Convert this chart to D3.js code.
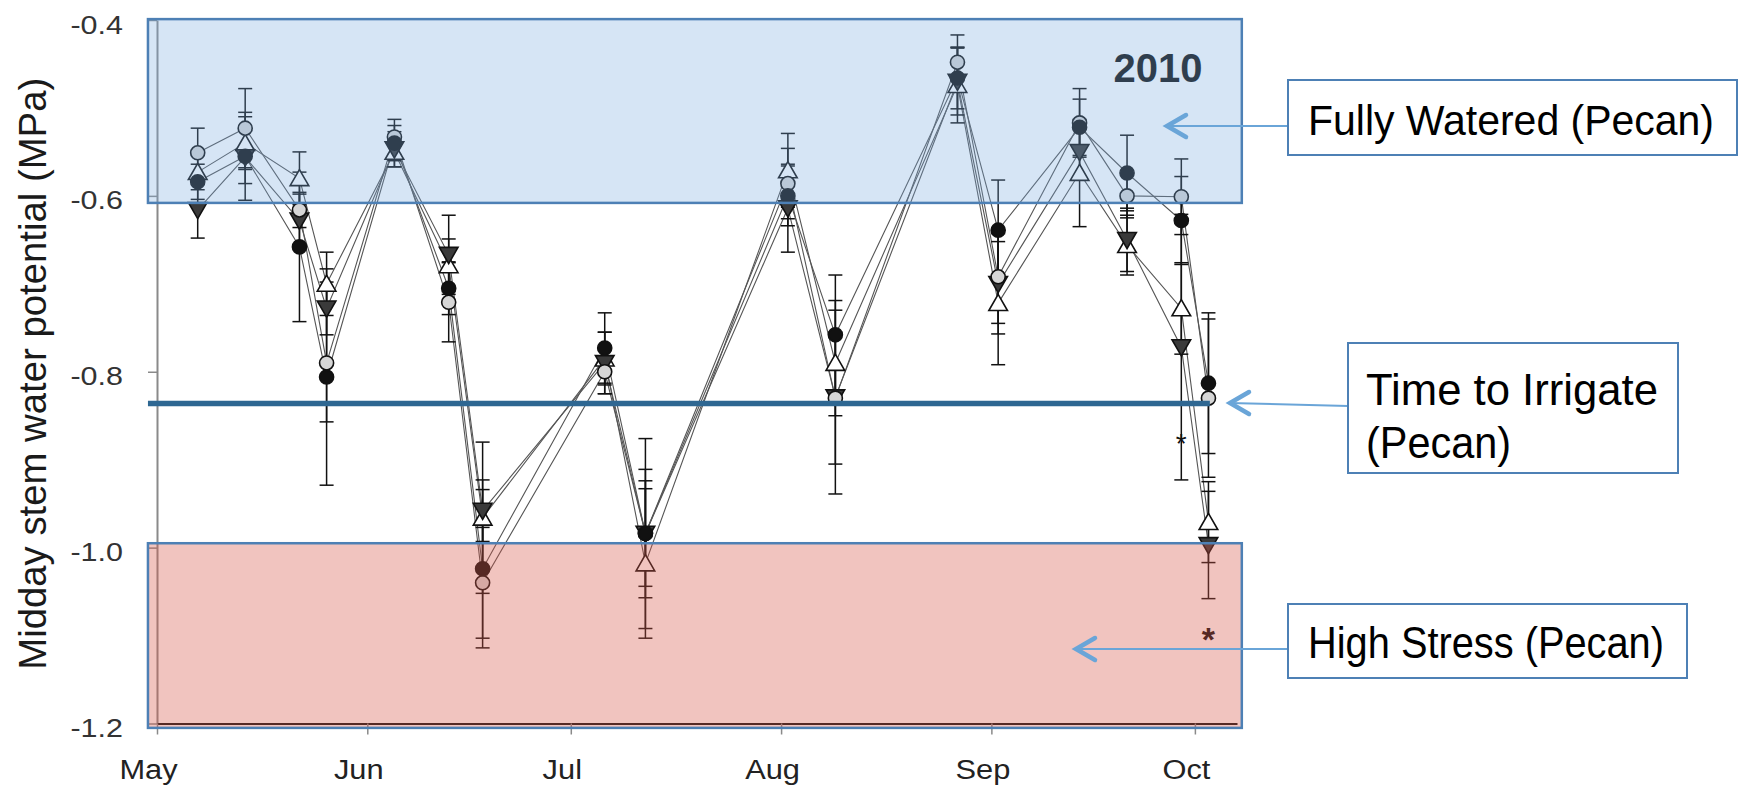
<!DOCTYPE html>
<html><head><meta charset="utf-8">
<script src="https://cdn.jsdelivr.net/npm/d3@7"></script>
<style>body{margin:0;background:#fff}svg{display:block}</style>
</head><body>
<svg id="c" width="1741" height="788"></svg>
<script>
// ---------------- data ----------------
const dates = ["2010-05-07","2010-05-14","2010-05-22","2010-05-26","2010-06-05","2010-06-13","2010-06-18",
  "2010-07-06","2010-07-12","2010-08-02","2010-08-09","2010-08-27","2010-09-02","2010-09-14","2010-09-21",
  "2010-09-29","2010-10-03"];
const filledCircle = [-0.584,-0.555,-0.658,-0.806,-0.540,-0.705,-1.024,-0.773,-0.984,-0.600,-0.758,-0.466,-0.639,-0.522,-0.574,-0.628,-0.813];
const filledCircleSE = [0.02,0.05,0.085,0.123,0.02,0.03,0.09,0.04,0.073,0.034,0.068,0.035,0.057,0.032,0.043,0.05,0.08];
const greyCircle = [-0.551,-0.523,-0.616,-0.790,-0.533,-0.721,-1.040,-0.800,-0.984,-0.586,-0.830,-0.448,-0.692,-0.517,-0.600,-0.601,-0.830];
const greyCircleSE = [0.028,0.045,0.02,0.067,0.02,0.045,0.063,0.025,0.06,0.04,0.075,0.031,0.053,0.039,0.025,0.043,0.09];
const openTriangle = [-0.573,-0.540,-0.580,-0.700,-0.550,-0.679,-0.966,-0.785,-1.018,-0.571,-0.790,-0.474,-0.722,-0.574,-0.656,-0.728,-0.971];
const openTriangleSE = [0.02,0.03,0.03,0.036,0.017,0.03,0.086,0.03,0.085,0.042,0.06,0.043,0.07,0.061,0.034,0.052,0.046];
const downTriangle = [-0.616,-0.556,-0.628,-0.728,-0.547,-0.667,-0.958,-0.790,-0.984,-0.614,-0.829,-0.470,-0.700,-0.550,-0.650,-0.772,-0.997];
const downTriangleSE = [0.032,0.03,0.03,0.03,0.02,0.045,0.035,0.035,0.108,0.05,0.11,0.038,0.057,0.03,0.036,0.151,0.061];

const yTicks = [-0.4,-0.6,-0.8,-1.0,-1.2];
const monthTicks = ["2010-05-01","2010-06-01","2010-07-01","2010-08-01","2010-09-01","2010-10-01"];
const monthLabels = ["May","Jun","Jul","Aug","Sep","Oct"];

const fullyWateredBand = [-0.399, -0.608];
const highStressBand = [-0.995, -1.205];
const bandDates = ["2010-04-29T16:00","2010-10-07T22:00"];
const irrigateValue = -0.836;
const irrigateDates = ["2010-04-29T16:00","2010-10-03T05:00"];
const asteriskDates = ["2010-09-29","2010-10-03"];
const asteriskValues = [-0.875, -1.097];
const yearLabel = "2010";
const yTitle = "Midday stem water potential (MPa)";

// ---------------- setup ----------------
const pd = d3.timeParse("%Y-%m-%d");
const pt = d3.timeParse("%Y-%m-%dT%H:%M");
const svg = d3.select("#c");
const FONT = "'Liberation Sans', Arial, sans-serif";

const x = d3.scaleTime().domain([pd("2010-05-01"), pt("2010-10-07T05:00")]).range([157, 1237]);
const y = d3.scaleLinear().domain([-1.2, -0.4]).range([723.5, 20]);

// y axis
const gy = svg.append("g").attr("transform", `translate(${x(pd("2010-05-01"))},0)`)
  .call(d3.axisLeft(y).tickValues(yTicks).tickFormat(d => d.toFixed(1)).tickSize(9).tickSizeOuter(0));
gy.select(".domain").attr("stroke", "#8a8a8a").attr("stroke-width", 2);
gy.selectAll(".tick line").attr("stroke", "#8a8a8a").attr("stroke-width", 1.5);
gy.selectAll(".tick text").attr("x", null).attr("dy", null).attr("y", 13)
  .attr("transform", "translate(-34,0) scale(1.22,1)")
  .attr("font-family", FONT).attr("font-size", 25).attr("fill", "#333").attr("text-anchor", "end");

// x axis
const gx = svg.append("g").attr("transform", `translate(0,${y(-1.2)})`)
  .call(d3.axisBottom(x).tickValues(monthTicks.map(pd)).tickFormat((d, i) => monthLabels[i]).tickSize(11).tickSizeOuter(0));
gx.select(".domain").attr("stroke", "#111").attr("stroke-width", 2);
gx.selectAll(".tick line").attr("stroke", "#8a8a8a").attr("stroke-width", 1.5);
gx.selectAll(".tick text").attr("y", null).attr("dy", null)
  .attr("transform", "translate(-9,55) scale(1.1,1)")
  .attr("font-family", FONT).attr("font-size", 28).attr("fill", "#222");

// y title
svg.append("text").attr("transform", `translate(46,${(y(-0.4)+y(-1.2))/2 + 2}) rotate(-90)`)
  .attr("text-anchor", "middle").attr("font-family", FONT).attr("font-size", 38).attr("fill", "#1a1a1a")
  .attr("textLength", 592).attr("lengthAdjust", "spacingAndGlyphs").text(yTitle);

// year label (under the blue overlay)
svg.append("text").attr("x", 1158).attr("y", 82).attr("text-anchor", "middle")
  .attr("font-family", FONT).attr("font-weight", "bold").attr("font-size", 40).attr("fill", "#111").text(yearLabel);

// ---------------- series ----------------
const series = [
  {vals: openTriangle, se: openTriangleSE, type: d3.symbolTriangle, rot: 0, fill: "#fff", size: 150},
  {vals: downTriangle, se: downTriangleSE, type: d3.symbolTriangle, rot: 180, fill: "#3a3a3a", size: 150},
  {vals: greyCircle, se: greyCircleSE, type: d3.symbolCircle, rot: 0, fill: "#d6d6d6", size: 155},
  {vals: filledCircle, se: filledCircleSE, type: d3.symbolCircle, rot: 0, fill: "#111", size: 155},
];
const pDates = dates.map(pd);

const lineGen = d3.line().x(d => x(d[0])).y(d => y(d[1]));
const gLines = svg.append("g");
series.forEach(s => {
  gLines.append("path").datum(pDates.map((d, i) => [d, s.vals[i]]))
    .attr("d", lineGen).attr("fill", "none").attr("stroke", "#555").attr("stroke-width", 1.1);
});

const gErr = svg.append("g").attr("stroke", "#111").attr("stroke-width", 1.5);
series.forEach(s => {
  pDates.forEach((d, i) => {
    const cx = x(d), y1 = y(s.vals[i] + s.se[i]), y2 = y(s.vals[i] - s.se[i]);
    gErr.append("line").attr("x1", cx).attr("x2", cx).attr("y1", y1).attr("y2", y2);
    gErr.append("line").attr("x1", cx - 7).attr("x2", cx + 7).attr("y1", y1).attr("y2", y1);
    gErr.append("line").attr("x1", cx - 7).attr("x2", cx + 7).attr("y1", y2).attr("y2", y2);
  });
});

const gPts = svg.append("g");
series.forEach(s => {
  const sym = d3.symbol().type(s.type).size(s.size);
  pDates.forEach((d, i) => {
    const ty = s.type === d3.symbolTriangle ? (s.rot ? -2 : 2) : 0;
    gPts.append("path").attr("d", sym)
      .attr("transform", `translate(${x(d)},${y(s.vals[i]) + ty}) rotate(${s.rot})`)
      .attr("fill", s.fill).attr("stroke", "#111").attr("stroke-width", 1.6);
  });
});

// asterisks
asteriskDates.forEach((d, i) => {
  svg.append("text").attr("x", x(pd(d))).attr("y", y(asteriskValues[i]) + (i ? 18 : 15))
    .attr("text-anchor", "middle").attr("font-family", FONT)
    .attr("font-size", i ? 34 : 28).attr("font-weight", i ? "bold" : "normal").attr("fill", "#111").text("*");
});

// ---------------- zones ----------------
const bx0 = x(pt(bandDates[0])), bx1 = x(pt(bandDates[1]));
svg.append("rect").attr("x", bx0).attr("y", y(fullyWateredBand[0]))
  .attr("width", bx1 - bx0).attr("height", y(fullyWateredBand[1]) - y(fullyWateredBand[0]))
  .attr("fill", "rgb(120,170,222)").attr("fill-opacity", 0.3).attr("stroke", "#4d80b5").attr("stroke-width", 2.5);
svg.append("rect").attr("x", bx0).attr("y", y(highStressBand[0]))
  .attr("width", bx1 - bx0).attr("height", y(highStressBand[1]) - y(highStressBand[0]))
  .attr("fill", "rgb(214,86,71)").attr("fill-opacity", 0.35).attr("stroke", "#4d80b5").attr("stroke-width", 2.5);

// time to irrigate line
svg.append("line").attr("x1", x(pt(irrigateDates[0]))).attr("x2", x(pt(irrigateDates[1])))
  .attr("y1", y(irrigateValue)).attr("y2", y(irrigateValue))
  .attr("stroke", "#2e6792").attr("stroke-width", 5.5);

// ---------------- annotations ----------------
const ARROW = "#6aa5d8", BOX = "#4d80b5";
function callout(rx, ry, rw, rh, lines, tip, from) {
  svg.append("line").attr("x1", from[0]).attr("y1", from[1]).attr("x2", tip[0]).attr("y2", tip[1])
    .attr("stroke", ARROW).attr("stroke-width", 2);
  svg.append("path").attr("d", `M${tip[0] + 20},${tip[1] - 11}L${tip[0] + 1},${tip[1]}L${tip[0] + 20},${tip[1] + 11}`)
    .attr("fill", "none").attr("stroke", ARROW).attr("stroke-width", 4.5).attr("stroke-linecap", "round").attr("stroke-linejoin", "miter");
  svg.append("rect").attr("x", rx).attr("y", ry).attr("width", rw).attr("height", rh)
    .attr("fill", "#fff").attr("stroke", BOX).attr("stroke-width", 2);
  lines.forEach(l => {
    svg.append("text").attr("x", l.x).attr("y", l.y).attr("font-family", FONT).attr("font-size", l.fs || 44)
      .attr("fill", "#000").attr("textLength", l.w).attr("lengthAdjust", "spacingAndGlyphs").text(l.t);
  });
}
callout(1288, 80, 449, 75, [{t: "Fully Watered (Pecan)", x: 1308, y: 135, w: 406, fs: 42}], [1166, 126], [1288, 126]);
callout(1348, 343, 330, 130, [{t: "Time to Irrigate", x: 1366, y: 405, w: 292}, {t: "(Pecan)", x: 1366, y: 458, w: 145}], [1229, 403], [1348, 406]);
callout(1288, 604, 399, 74, [{t: "High Stress (Pecan)", x: 1308, y: 658, w: 356}], [1075, 649], [1288, 649]);
</script>
</body></html>
